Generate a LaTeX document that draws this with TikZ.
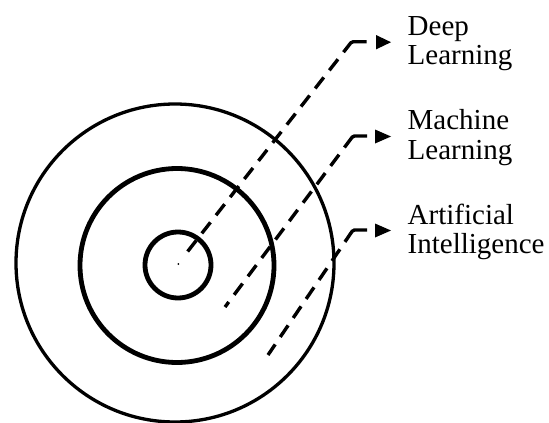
\documentclass[tikz,border=0pt]{standalone}
\usepackage{fontspec}
\setmainfont{Liberation Serif}
\begin{document}
\begin{tikzpicture}[x=1pt,y=-1pt,
  outerring/.style={line width=3.3pt},
  innerring/.style={line width=4.8pt},
  conn/.style={line width=3.4pt, rounded corners=1.5pt,
    dash pattern=on 28pt off 9pt on 14pt off 9pt on 14pt off 9pt on 14pt off 9pt on 14pt off 9pt on 14pt off 9pt on 14pt off 9pt on 14pt off 9pt on 14pt off 9pt on 14pt off 9pt on 14pt off 9pt on 14pt off 9pt on 14pt off 9pt on 14pt off 9pt on 14pt off 9pt},
  tiphead/.style={fill=black},
  lbl/.style={anchor=base west, align=left, inner sep=0pt, font=\fontsize{29}{29.3}\selectfont}
]
\useasboundingbox (0,0) rectangle (549,423);
% rings
\draw[outerring] (175,263) circle[radius=159];
\draw[innerring] (177,265.5) circle[radius=97];
\draw[innerring] (178,265) circle[radius=33];
\fill (178.3,264) circle[radius=1];
% labels (base anchor = baseline of the last line)
\node[lbl] (dl) at (407.5,64.5) {Deep\\Learning};
\node[lbl] (ml) at (407.5,159) {Machine\\Learning};
\node[lbl] (ai) at (407.5,253.3) {Artificial\\Intelligence};
% connector coordinates
\coordinate (s1) at (186.7,252.7);
\coordinate (k1) at (351.7,41.7);
\coordinate (e1) at (366.7,41.7);
\coordinate (s2) at (225,307);
\coordinate (k2) at (353,136);
\coordinate (e2) at (367,136);
\coordinate (s3) at (268,355);
\coordinate (k3) at (353,230);
\coordinate (e3) at (367,230);
% connectors
\draw[conn] (e1) -- (k1) -- (s1);
\draw[conn] (e2) -- (k2) -- (s2);
\draw[conn] (e3) -- (k3) -- (s3);
% arrowheads
\fill[tiphead] (376,35) -- (391,42.2) -- (376,49.4) -- cycle;
\fill[tiphead] (375,129.5) -- (391,136.5) -- (375,143.5) -- cycle;
\fill[tiphead] (375,223.5) -- (391,230.5) -- (375,237.5) -- cycle;
\end{tikzpicture}
\end{document}
